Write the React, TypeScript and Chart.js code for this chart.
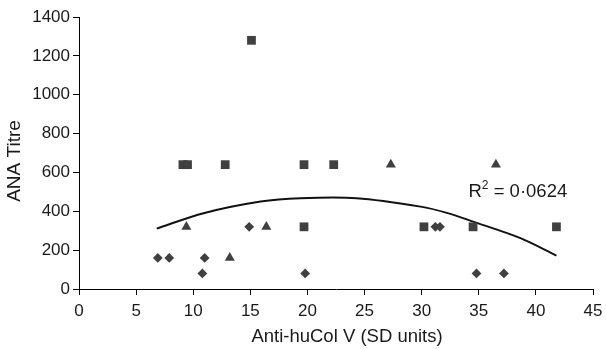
import React, { useEffect, useRef } from "react";
import { Chart, registerables } from "chart.js";

Chart.register(...registerables);

const diamondX = [6.9, 7.9, 10.8, 11.0, 14.9, 19.8, 31.2, 31.6, 34.8, 37.2];
const diamondY = [160, 160, 80, 160, 320, 80, 320, 320, 80, 80];

const squareX = [9.1, 9.5, 12.8, 15.1, 19.7, 19.7, 22.3, 30.2, 34.5, 41.8];
const squareY = [640, 640, 640, 1280, 640, 320, 640, 320, 320, 320];

const triangleX = [9.4, 13.2, 16.4, 27.3, 36.5];
const triangleY = [320, 160, 320, 640, 640];

const trendX = [6.8, 10.9, 15.9, 19.4, 24.3, 29.9, 32.2, 34.5, 38.6, 41.8];
const trendY = [311, 390, 450, 467, 467, 424, 392, 347, 263, 172];

const xTicks = [0, 5, 10, 15, 20, 25, 30, 35, 40, 45];
const yTicks = [0, 200, 400, 600, 800, 1000, 1200, 1400];

const xTitle = "Anti-huCol V (SD units)";
const yTitle = "ANA Titre";
const rSquared = "0·0624";

const pts = (xs: number[], ys: number[]) => xs.map((x, i) => ({ x, y: ys[i] }));

const MARK = "#404040";
const TEXT = "#1a1a1a";
const FONT = "'Liberation Sans', Arial, sans-serif";

const annotationPlugin = {
  id: "r2label",
  afterDatasetsDraw(chart: any) {
    const { ctx, scales, chartArea } = chart;
    const px = scales.x.getPixelForValue(34.1);
    const py = scales.y.getPixelForValue(474);
    ctx.save();
    ctx.fillStyle = TEXT;
    ctx.textBaseline = "alphabetic";
    ctx.textAlign = "left";
    ctx.font = `18.5px ${FONT}`;
    ctx.fillText("R", px, py);
    const w = ctx.measureText("R").width;
    ctx.font = `12px ${FONT}`;
    ctx.fillText("2", px + w, py - 8);
    const w2 = ctx.measureText("2").width;
    ctx.font = `18.5px ${FONT}`;
    ctx.fillText(" = " + rSquared, px + w + w2, py);

    // x axis title (offset right of centre as in the reference)
    ctx.textAlign = "center";
    ctx.textBaseline = "middle";
    ctx.font = `18.5px ${FONT}`;
    ctx.fillText(xTitle, (chartArea.left + chartArea.right) / 2 + 11, chartArea.bottom + 48);

    // y axis title (offset below centre as in the reference)
    ctx.translate(15, (chartArea.top + chartArea.bottom) / 2 + 8);
    ctx.rotate(-Math.PI / 2);
    ctx.font = `19px ${FONT}`;
    ctx.fillText(yTitle, 0, 0);
    ctx.restore();
  },
};

export default function App() {
  const ref = useRef<HTMLCanvasElement>(null);
  useEffect(() => {
    document.body.style.margin = "0";
    const chart = new Chart(ref.current!, {
      type: "scatter",
      data: {
        datasets: [
          {
            label: "diamond",
            data: pts(diamondX, diamondY),
            pointStyle: "rectRot",
            pointRadius: 4.9,
            backgroundColor: MARK,
            borderColor: MARK,
            borderWidth: 0,
          },
          {
            label: "square",
            data: pts(squareX, squareY),
            pointStyle: "rect",
            pointRadius: 6.2,
            backgroundColor: MARK,
            borderColor: MARK,
            borderWidth: 0,
          },
          {
            label: "triangle",
            data: pts(triangleX, triangleY),
            pointStyle: "triangle",
            pointRadius: 5.8,
            backgroundColor: MARK,
            borderColor: MARK,
            borderWidth: 0,
          },
          {
            label: "trend",
            type: "line",
            data: pts(trendX, trendY),
            showLine: true,
            pointRadius: 0,
            borderColor: "#111",
            borderWidth: 2,
            tension: 0.3,
            fill: false,
          } as any,
        ],
      },
      options: {
        animation: false,
        responsive: false,
        maintainAspectRatio: false,
        layout: { padding: { left: 0, right: 13, top: 17, bottom: 0 } },
        plugins: { legend: { display: false }, tooltip: { enabled: false } },
        scales: {
          x: {
            type: "linear",
            min: 0,
            max: 45,
            afterBuildTicks: (s: any) => {
              s.ticks = xTicks.map((v) => ({ value: v }));
            },
            afterFit: (s: any) => {
              s.height = 60;
              s.paddingRight = 0;
              s.paddingLeft = 0;
            },
            grid: { display: true, drawOnChartArea: false, drawTicks: true, tickLength: 6, color: "#000" },
            border: { display: true, color: "#000", width: 1 },
            ticks: { color: TEXT, font: { family: FONT, size: 17 }, padding: 6, maxRotation: 0, callback: (v: any) => String(v) },
            title: { display: false },
          },
          y: {
            type: "linear",
            min: 0,
            max: 1400,
            afterBuildTicks: (s: any) => {
              s.ticks = yTicks.map((v) => ({ value: v }));
            },
            afterFit: (s: any) => {
              s.width = 79;
              s.paddingTop = 0;
              s.paddingBottom = 0;
            },
            grid: { display: true, drawOnChartArea: false, drawTicks: true, tickLength: 6, color: "#000" },
            border: { display: true, color: "#000", width: 1 },
            ticks: { color: TEXT, font: { family: FONT, size: 17 }, padding: 3, callback: (v: any) => String(v) },
            title: { display: false },
          },
        },
      },
      plugins: [annotationPlugin],
    });
    return () => chart.destroy();
  }, []);
  return (
    <div style={{ width: 606, height: 349 }}>
      <canvas ref={ref} width={606} height={349} style={{ display: "block" }} />
    </div>
  );
}
